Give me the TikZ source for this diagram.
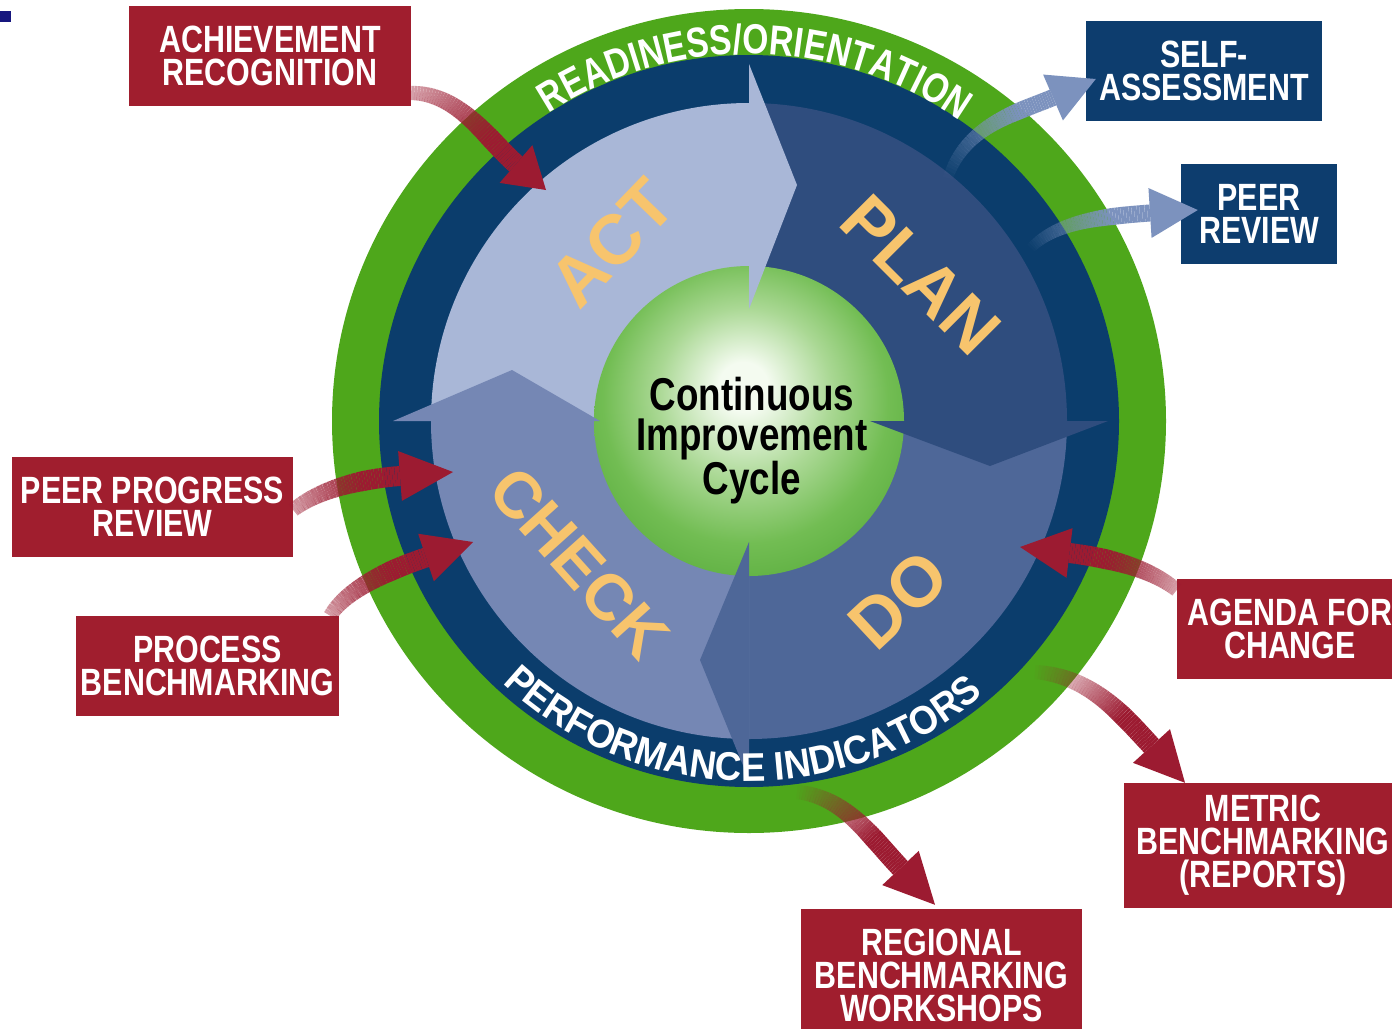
\documentclass[tikz,border=0pt]{standalone}
\usepackage{fontspec}
\setmainfont{Liberation Sans}
\newfontfamily\condfont{Liberation Sans}[FakeStretch=0.8]
\newfontfamily\ringbfont{Liberation Sans}[FakeStretch=0.92]
\usetikzlibrary{calc,decorations.text}

\definecolor{ringgreen}{HTML}{4EA71B}
\definecolor{ringnavy}{HTML}{0B3D6C}
\definecolor{actc}{HTML}{A9B7D7}
\definecolor{planc}{HTML}{2F4D7E}
\definecolor{doc}{HTML}{4E6798}
\definecolor{checkc}{HTML}{7587B4}
\definecolor{boxred}{HTML}{A01E2E}
\definecolor{boxnavy}{HTML}{0D3D6E}
\definecolor{arrred}{HTML}{9C1B31}
\definecolor{arrblue}{HTML}{7C92BE}
\definecolor{lblorange}{HTML}{F7C46D}
\definecolor{sphA}{HTML}{F4FBF0}
\definecolor{sphB}{HTML}{AAD894}
\definecolor{sphC}{HTML}{72BD53}
\definecolor{sphD}{HTML}{5AAD3E}
\definecolor{bulletblue}{HTML}{16167E}

\pgfdeclareradialshading{sphereshade}{\pgfpoint{-1bp}{6bp}}{color(0bp)=(sphA); color(4bp)=(sphA); color(14bp)=(sphB); color(23bp)=(sphC); color(31bp)=(sphD); color(50bp)=(sphD)}

\newcommand\boxfont{\condfont\bfseries\fontsize{38}{33}\selectfont}
\newcommand\centerfont{\condfont\bfseries\fontsize{46}{40}\selectfont}
\newcommand\lblfont{\bfseries\fontsize{70}{70}\selectfont}
\newcommand\lblfontsm{\bfseries\fontsize{65}{65}\selectfont}
\newcommand\ringtopfont{\condfont\bfseries\fontsize{42}{42}\selectfont}
\newcommand\ringbotfont{\ringbfont\bfseries\fontsize{40}{40}\selectfont}

% #1 colour, #2 tail, #3 ctrl1, #4 ctrl2, #5 head base, #6 tip, #7 tail opacity, #8 tail width, #9 end width
\newcommand\fadearrow[9]{%
  \foreach \k in {0,...,48}{%
    \pgfmathsetmacro\fu{\k/48}%
    \coordinate (fp\k) at ($ {(1-\fu)^3}*(#2) + {3*(1-\fu)^2*\fu}*(#3) + {3*(1-\fu)*\fu^2}*(#4) + {\fu^3}*(#5) $);
  }%
  \foreach \k [evaluate={\k as \fkk using int(\k-1)},
               evaluate={\k as \fop using #7+(1-#7)*min(1,\k/34)},
               evaluate={\k as \flw using #8+(#9-#8)*min(1,\k/34)}] in {1,...,48}{%
    \draw[#1, line width=\flw pt, opacity=\fop] (fp\fkk) -- (fp\k);
  }%
  \fill[#1] ($(#5)!25pt!90:(#6)$) -- (#6) -- ($(#5)!25pt!-90:(#6)$) -- cycle;
}

\tikzset{
  redbox/.style={fill=boxred, text=white, font=\boxfont, align=center, inner sep=0pt},
  navybox/.style={fill=boxnavy, text=white, font=\boxfont, align=center, inner sep=0pt},
  cyclelabel/.style={text=lblorange, font=\lblfont, inner sep=0pt},
}

\begin{document}
\begin{tikzpicture}[x=1pt,y=1pt]
\useasboundingbox (0,0) rectangle (1392,-1028);
\fill[white] (0,0) rectangle (1392,-1028);
\fill[bulletblue] (0,-11) rectangle (11,-22);

\begin{scope}[shift={(749,-421)}]
  \fill[ringgreen] (0,0) ellipse[x radius=417pt, y radius=412pt];
  \fill[ringnavy] (0,0) ellipse[x radius=370pt, y radius=366pt];
  \fill[actc] (0,0) -- (90:318pt) arc[start angle=90,end angle=180,radius=318pt] -- cycle;
  \fill[planc] (0,0) -- (0:318pt) arc[start angle=0,end angle=90,radius=318pt] -- cycle;
  \fill[doc] (0,0) -- (-90:318pt) arc[start angle=-90,end angle=0,radius=318pt] -- cycle;
  \fill[checkc] (0,0) -- (180:318pt) arc[start angle=180,end angle=270,radius=318pt] -- cycle;
  \shade[shading=sphereshade] (0,0) circle[radius=155pt];
  % arrow heads of the cycle
  \fill[actc] (90:112pt) -- (90:357pt) -- (48,236) -- cycle;
  \fill[planc] (0:121pt) -- (0:359pt) -- (241,-45) -- cycle;
  \fill[doc] (-90:121pt) -- (-90:359pt) -- (-49,-239) -- cycle;
  \fill[checkc] (180:149pt) -- (180:356pt) -- (-237,51) -- cycle;
  % ring texts
  \path[decorate, decoration={text along path, text align=center, text color=white,
     text={|\ringtopfont|READINESS/ORIENTATION}}]
     (159:367pt) arc[start angle=159, end angle=19, radius=367pt];
  \path[decorate, decoration={text along path, text align=center, text color=white,
     text={|\ringbotfont|PERFORMANCE INDICATORS}}]
     (-171.25:360pt) arc[start angle=-171.25, end angle=-11.25, radius=360pt];
\end{scope}

\node[cyclelabel, rotate=46] (lact) at (612,-243) {ACT};
\node[cyclelabel, rotate=-45] (lplan) at (921,-275) {PLAN};
\node[cyclelabel, rotate=-48, font=\lblfontsm] (lcheck) at (579,-563) {CHECK};
\node[cyclelabel, rotate=43] (ldo) at (898,-600) {DO};
\node[font=\centerfont, align=center, inner sep=0pt] (cic) at (752,-441) {Continuous\\Improvement\\Cycle};

% boxes
\node[redbox, minimum width=282pt, minimum height=100pt] (ach) at (270,-56) {ACHIEVEMENT\\RECOGNITION};
\node[navybox, minimum width=236pt, minimum height=100pt] (self) at (1204,-71) {SELF-\\ASSESSMENT};
\node[navybox, minimum width=156pt, minimum height=100pt] (peer) at (1259,-214) {PEER\\REVIEW};
\node[redbox, minimum width=281pt, minimum height=100pt] (ppr) at (152.5,-507) {PEER PROGRESS\\REVIEW};
\node[redbox, minimum width=263pt, minimum height=100pt] (proc) at (207.5,-666) {PROCESS\\BENCHMARKING};
\node[redbox, minimum width=226pt, minimum height=100pt] (agenda) at (1290,-629) {AGENDA FOR\\CHANGE};
\node[redbox, minimum width=278pt, minimum height=125pt] (metric) at (1263,-845.5) {METRIC\\BENCHMARKING\\(REPORTS)};
\node[redbox, minimum width=281pt, minimum height=132pt] (regional) at (941.5,-975) {REGIONAL\\BENCHMARKING\\WORKSHOPS};

% arrow geometry
\coordinate (a1t) at ([yshift=-37pt]ach.east);
\coordinate (a1c) at (460,-93);  \coordinate (a1d) at (489,-141);
\coordinate (a1b) at (516,-164); \coordinate (a1h) at (546,-190);

\coordinate (a2t) at (948,-178);
\coordinate (a2c) at (965,-125); \coordinate (a2d) at (1019,-112);
\coordinate (a2b) at (1053,-97.5); \coordinate (a2h) at ([shift={(10pt,-8pt)}]self.west);

\coordinate (a3t) at (1031,-248);
\coordinate (a3c) at (1058,-220); \coordinate (a3d) at (1110,-216);
\coordinate (a3b) at (1150,-213); \coordinate (a3h) at ([shift={(17pt,4pt)}]peer.west);

\coordinate (a4t) at ([yshift=-3pt]ppr.east);
\coordinate (a4c) at (318,-490); \coordinate (a4d) at (360,-479);
\coordinate (a4b) at (400,-476); \coordinate (a4h) at (453,-472);

\coordinate (a5t) at ([xshift=-9pt]proc.north east);
\coordinate (a5c) at (346,-590); \coordinate (a5d) at (388,-570);
\coordinate (a5b) at (426,-557.5); \coordinate (a5h) at (473,-542);

\coordinate (a6t) at ([yshift=39pt]agenda.west);
\coordinate (a6c) at (1150,-568); \coordinate (a6d) at (1109,-558);
\coordinate (a6b) at (1069.5,-553); \coordinate (a6h) at (1020,-547);

\coordinate (a7t) at (1035,-672);
\coordinate (a7c) at (1090,-676); \coordinate (a7d) at (1121,-713);
\coordinate (a7b) at (1151.5,-746); \coordinate (a7h) at ([xshift=-78pt]metric.north);

\coordinate (a8t) at (797,-792);
\coordinate (a8c) at (845,-797); \coordinate (a8d) at (869.5,-835);
\coordinate (a8b) at (900.5,-868); \coordinate (a8h) at ([shift={(-6.5pt,4pt)}]regional.north);

\fadearrow{arrred}{a1t}{a1c}{a1d}{a1b}{a1h}{0.4}{14}{20}
\fadearrow{arrblue}{a2t}{a2c}{a2d}{a2b}{a2h}{0.0}{10}{17}
\fadearrow{arrblue}{a3t}{a3c}{a3d}{a3b}{a3h}{0.0}{10}{17}
\fadearrow{arrred}{a4t}{a4c}{a4d}{a4b}{a4h}{0.4}{14}{20}
\fadearrow{arrred}{a5t}{a5c}{a5d}{a5b}{a5h}{0.4}{14}{20}
\fadearrow{arrred}{a6t}{a6c}{a6d}{a6b}{a6h}{0.4}{14}{20}
\fadearrow{arrred}{a7t}{a7c}{a7d}{a7b}{a7h}{0.0}{14}{20}
\fadearrow{arrred}{a8t}{a8c}{a8d}{a8b}{a8h}{0.0}{14}{20}
\end{tikzpicture}
\end{document}
